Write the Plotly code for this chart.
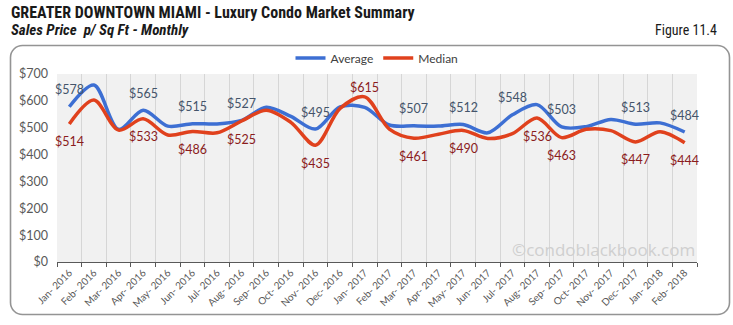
import base64
import plotly.graph_objects as go

months = ["Jan- 2016", "Feb- 2016", "Mar- 2016", "Apr- 2016", "May- 2016", "Jun- 2016",
          "Jul- 2016", "Aug- 2016", "Sep- 2016", "Oct- 2016", "Nov- 2016", "Dec- 2016",
          "Jan- 2017", "Feb- 2017", "Mar- 2017", "Apr- 2017", "May- 2017", "Jun- 2017",
          "Jul- 2017", "Aug- 2017", "Sep- 2017", "Oct- 2017", "Nov- 2017", "Dec- 2017",
          "Jan- 2018", "Feb- 2018"]

average = [578, 659, 494, 565, 506, 515, 514, 527, 576, 542, 495, 578, 576, 510, 507, 506,
           512, 481, 548, 586, 503, 504, 531, 513, 518, 484]
median = [514, 603, 491, 533, 473, 486, 481, 525, 565, 520, 435, 572, 615, 495, 461, 476,
          490, 460, 478, 536, 463, 494, 489, 447, 485, 444]

avg_label_idx = [0, 3, 5, 7, 10, 14, 16, 18, 20, 23, 25]
med_label_idx = [0, 3, 5, 7, 10, 12, 14, 16, 19, 20, 23, 25]

y_ticks = [0, 100, 200, 300, 400, 500, 600, 700]
y_tick_text = ["$0", "$100", "$200", "$300", "$400", "$500", "$600", "$700"]

BLUE = "#3D6FD3"
RED = "#E0411D"
LBL_FONT = "Lato, Carlito, Calibri, sans-serif"
NARROW = "Liberation Sans Narrow, Arial Narrow, Roboto Condensed, sans-serif"

fig = go.Figure()
fig.add_trace(go.Scatter(x=months, y=average, name="Average", mode="lines",
                         line=dict(color=BLUE, width=3.5, shape="spline", smoothing=0.9)))
fig.add_trace(go.Scatter(x=months, y=median, name="Median", mode="lines",
                         line=dict(color=RED, width=3.5, shape="spline", smoothing=0.9)))

annotations = []
for i in avg_label_idx:
    annotations.append(dict(x=months[i], y=average[i], text=f"${average[i]}", showarrow=False,
                            yshift=17, font=dict(family=LBL_FONT, size=12.5, color="#44546A")))
for i in med_label_idx:
    shift = 9 if median[i] > average[i] else -18
    annotations.append(dict(x=months[i], y=median[i], text=f"${median[i]}", showarrow=False,
                            yshift=shift, font=dict(family=LBL_FONT, size=12.5, color="#8B1C1C")))

# plot area: x 57..697, y 74..262 (px)
def px(X):
    return (X - 57) / 640.0

def py(Y):
    return (262 - Y) / 188.0

annotations += [
    dict(xref="paper", yref="paper", x=px(9), y=py(13), xanchor="left", yanchor="middle",
         text="<b>GREATER DOWNTOWN MIAMI - Luxury Condo Market Summary</b>", showarrow=False,
         font=dict(family=NARROW, size=16, color="#1a1a1a")),
    dict(xref="paper", yref="paper", x=px(9), y=py(30), xanchor="left", yanchor="middle",
         text="<b><i>Sales Price  p/ Sq Ft - Monthly</i></b>", showarrow=False,
         font=dict(family=NARROW, size=15, color="#1a1a1a")),
    dict(xref="paper", yref="paper", x=px(719), y=py(30), xanchor="right", yanchor="middle",
         text="Figure 11.4", showarrow=False,
         font=dict(family=NARROW, size=14, color="#1a1a1a")),
    dict(xref="paper", yref="paper", x=1.0, y=0.0, xanchor="right", yanchor="bottom",
         text="©condoblackbook.com", showarrow=False, yshift=-1,
         font=dict(family="Open Sans, sans-serif", size=17, color="#cfcfcf")),
]

# rounded chart frame as an overlay svg image covering the full page
svg = ('<svg xmlns="http://www.w3.org/2000/svg" width="733" height="325">'
       '<rect x="10.5" y="45.5" width="719" height="269" rx="12" ry="12" '
       'fill="none" stroke="#949494" stroke-width="1.6"/></svg>')
img_src = "data:image/svg+xml;base64," + base64.b64encode(svg.encode()).decode()

fig.update_layout(
    width=733, height=325,
    margin=dict(l=57, r=36, t=74, b=63),
    paper_bgcolor="white",
    plot_bgcolor="#F1F1F1",
    showlegend=True,
    legend=dict(orientation="h", x=0.5, xanchor="center", y=py(58), yanchor="middle",
                font=dict(family=LBL_FONT, size=12, color="#404040"),
                bgcolor="rgba(0,0,0,0)", itemwidth=30),
    annotations=annotations,
    images=[dict(source=img_src, xref="paper", yref="paper", x=px(0), y=py(0),
                 sizex=733 / 640.0, sizey=325 / 188.0, xanchor="left", yanchor="top",
                 sizing="stretch", layer="above")],
    xaxis=dict(type="category", tickangle=-45, tickson="boundaries", ticks="outside",
               ticklen=4, tickcolor="#595959", showline=True, linecolor="#595959",
               linewidth=1.2, showgrid=True, gridcolor="#D6D6D6", gridwidth=1,
               tickfont=dict(family=LBL_FONT, size=10, color="#595959"),
               range=[-0.5, 25.5], fixedrange=True),
    yaxis=dict(range=[0, 700], tickvals=y_ticks, ticktext=y_tick_text, showgrid=False,
               zeroline=False, showline=False, ticklabelstandoff=8,
               tickfont=dict(family=LBL_FONT, size=12.5, color="#595959"), fixedrange=True),
)

fig.write_html("out.html")
